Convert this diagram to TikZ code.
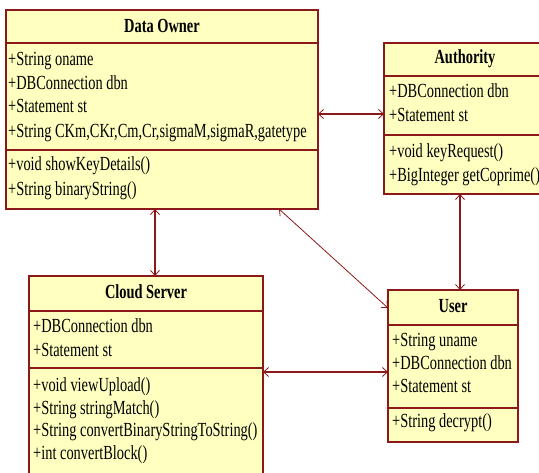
\documentclass[tikz,border=0pt]{standalone}
\usepackage{fontspec}
\setmainfont{Liberation Serif}[FakeStretch=0.72]
\usetikzlibrary{arrows.meta}
\definecolor{boxfill}{RGB}{255,255,192}
\definecolor{boxline}{RGB}{140,25,25}
\tikzset{
  cls/.style={draw=boxline, fill=boxfill, line width=1.3pt, inner sep=0pt, outer sep=0pt, anchor=north west},
  divline/.style={draw=boxline, line width=1.3pt},
  ttl/.style={font=\fontsize{20}{20}\selectfont\bfseries, inner sep=0pt},
  mem/.style={font=\fontsize{20}{20}\selectfont, anchor=west, inner sep=0pt, text height=13pt, text depth=4pt},
  assoc/.style={draw=boxline, {Straight Barb[length=5pt,width=9pt,line width=0.8pt]}-{Straight Barb[length=5pt,width=9pt,line width=0.8pt]}},
}
\begin{document}
\begin{tikzpicture}[x=1pt,y=-1pt]
\useasboundingbox (0,0) rectangle (539,473);
\clip (0,0) rectangle (539,473);
% Data Owner
\node[cls, minimum width=312pt, minimum height=199pt] (do) at (6,10) {};
\draw[divline] (6,43) -- (318,43);
\draw[divline] (6,150) -- (318,150);
\node[ttl] (dot) at (162,26) {Data Owner};
\node[mem] (do1) at (8,61) {+String oname};
\node[mem] (do2) at (8,85) {+DBConnection dbn};
\node[mem] (do3) at (8,108) {+Statement st};
\node[mem] (do4) at (8,133) {+String CKm,CKr,Cm,Cr,sigmaM,sigmaR,gatetype};
\node[mem] (do5) at (8,166) {+void showKeyDetails()};
\node[mem] (do6) at (8,191) {+String binaryString()};
% Authority
\node[cls, minimum width=162pt, minimum height=151pt] (au) at (384,43) {};
\draw[divline] (384,76) -- (546,76);
\draw[divline] (384,135) -- (546,135);
\node[ttl] (aut) at (465,59) {Authority};
\node[mem] (au1) at (389,93) {+DBConnection dbn};
\node[mem] (au2) at (389,117) {+Statement st};
\node[mem] (au3) at (389,153) {+void keyRequest()};
\node[mem] (au4) at (389,177) {+BigInteger getCoprime()};
% Cloud Server
\node[cls, minimum width=234pt, minimum height=214pt] (cs) at (29,276) {};
\draw[divline] (29,311) -- (263,311);
\draw[divline] (29,368) -- (263,368);
\node[ttl] (cst) at (146,292) {Cloud Server};
\node[mem] (cs1) at (33,328) {+DBConnection dbn};
\node[mem] (cs2) at (33,352) {+Statement st};
\node[mem] (cs3) at (33,387) {+void viewUpload()};
\node[mem] (cs4) at (33,410) {+String stringMatch()};
\node[mem] (cs5) at (33,432) {+String convertBinaryStringToString()};
\node[mem] (cs6) at (33,455) {+int convertBlock()};
% User
\node[cls, minimum width=130pt, minimum height=152pt] (us) at (388,290) {};
\draw[divline] (388,325) -- (518,325);
\draw[divline] (388,408) -- (518,408);
\node[ttl] (ust) at (453,306) {User};
\node[mem] (us1) at (392,342) {+String uname};
\node[mem] (us2) at (392,365) {+DBConnection dbn};
\node[mem] (us3) at (392,388) {+Statement st};
\node[mem] (us4) at (392,423) {+String decrypt()};
% helper coordinates
\coordinate (y114) at (0,114);
\coordinate (y372) at (0,372);
\coordinate (y308) at (0,308);
\coordinate (x155) at (155,0);
\coordinate (x460) at (460,0);
\coordinate (x279) at (279,0);
% connectors
\draw[assoc, line width=1.8pt] (do.east |- y114) -- (au.west |- y114);
\draw[assoc, line width=1.8pt] (do.south -| x155) -- (cs.north -| x155);
\draw[assoc, line width=1.3pt] (au.south -| x460) -- (us.north -| x460);
\draw[assoc, line width=1.8pt] (cs.east |- y372) -- (us.west |- y372);
\draw[assoc, line width=0.8pt] (do.south -| x279) -- (us.west |- y308);
\end{tikzpicture}
\end{document}
